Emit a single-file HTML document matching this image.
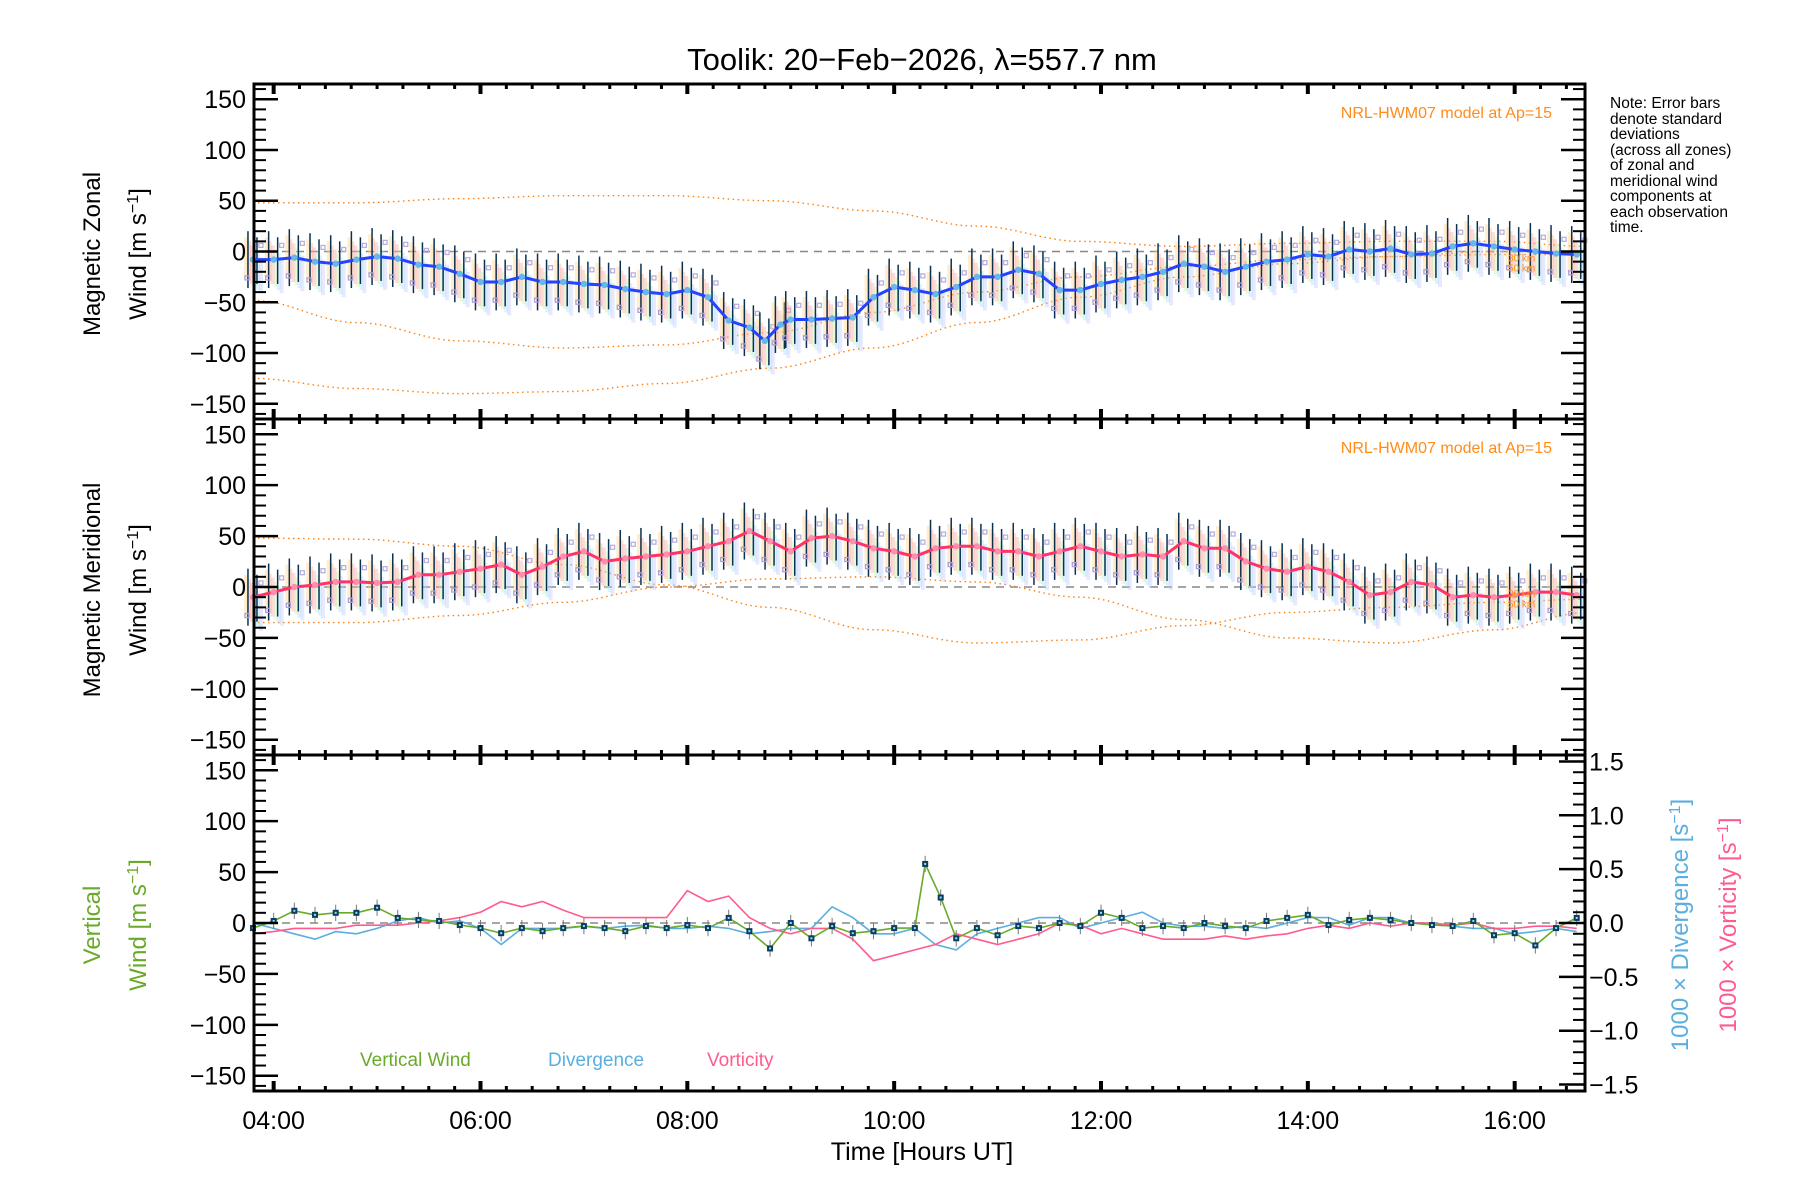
<!DOCTYPE html>
<html><head><meta charset="utf-8"><style>
html,body{margin:0;padding:0;background:#fff;}
svg{display:block;font-family:"Liberation Sans",sans-serif;}
</style></head><body>
<svg id="chart" width="1800" height="1200" viewBox="0 0 1800 1200" xmlns="http://www.w3.org/2000/svg">
<rect width="1800" height="1200" fill="#fff"/>
<text x="922" y="70" font-size="31" text-anchor="middle">Toolik: 20−Feb−2026, λ=557.7 nm</text>
<g font-size="15.5" fill="#000">
<text x="1610" y="108">Note: Error bars</text><text x="1610" y="124">denote standard</text><text x="1610" y="139">deviations</text><text x="1610" y="155">(across all zones)</text><text x="1610" y="170">of zonal and</text><text x="1610" y="186">meridional wind</text><text x="1610" y="201">components at</text><text x="1610" y="217">each observation</text><text x="1610" y="232">time.</text>
</g>
<g id="layer"></g>
</svg>
<script>
const tZ=[3.8,4.0,4.2,4.4,4.6,4.8,5.0,5.2,5.4,5.6,5.8,6.0,6.2,6.4,6.6,6.8,7.0,7.2,7.4,7.6,7.8,8.0,8.2,8.4,8.6,8.75,8.9,9.0,9.2,9.4,9.6,9.8,10.0,10.2,10.4,10.6,10.8,11.0,11.2,11.4,11.6,11.8,12.0,12.2,12.4,12.6,12.8,13.0,13.2,13.4,13.6,13.8,14.0,14.2,14.4,14.6,14.8,15.0,15.2,15.4,15.6,15.8,16.0,16.2,16.4,16.6];
const zonal=[-8,-8,-6,-10,-12,-8,-5,-7,-13,-15,-22,-30,-30,-25,-30,-30,-32,-33,-37,-40,-42,-38,-45,-68,-75,-88,-72,-67,-67,-66,-65,-45,-35,-38,-42,-35,-25,-25,-18,-22,-38,-38,-32,-28,-25,-20,-12,-15,-20,-15,-10,-8,-3,-5,2,0,3,-3,-2,5,8,5,2,0,-2,-3];
const tM=[3.8,4.0,4.2,4.4,4.6,4.8,5.0,5.2,5.4,5.6,5.8,6.0,6.2,6.4,6.6,6.8,7.0,7.2,7.4,7.6,7.8,8.0,8.2,8.4,8.6,8.8,9.0,9.2,9.4,9.6,9.8,10.0,10.2,10.4,10.6,10.8,11.0,11.2,11.4,11.6,11.8,12.0,12.2,12.4,12.6,12.8,13.0,13.2,13.4,13.6,13.8,14.0,14.2,14.4,14.6,14.8,15.0,15.2,15.4,15.6,15.8,16.0,16.2,16.4,16.6];
const meridional=[-10,-5,0,2,5,5,4,5,12,12,15,18,22,12,20,30,35,25,28,30,32,35,40,45,55,45,35,48,50,45,38,35,30,38,40,40,35,35,30,35,40,35,30,32,30,45,38,38,25,18,15,20,15,5,-8,-5,5,2,-10,-8,-10,-8,-5,-5,-8];
const tV=[3.8,4.0,4.2,4.4,4.6,4.8,5.0,5.2,5.4,5.6,5.8,6.0,6.2,6.4,6.6,6.8,7.0,7.2,7.4,7.6,7.8,8.0,8.2,8.4,8.6,8.8,9.0,9.2,9.4,9.6,9.8,10.0,10.2,10.3,10.45,10.6,10.8,11.0,11.2,11.4,11.6,11.8,12.0,12.2,12.4,12.6,12.8,13.0,13.2,13.4,13.6,13.8,14.0,14.2,14.4,14.6,14.8,15.0,15.2,15.4,15.6,15.8,16.0,16.2,16.4,16.6];
const vertical=[-5,2,12,8,10,10,15,5,3,2,-2,-5,-10,-5,-8,-5,-3,-5,-8,-3,-5,-2,-5,5,-8,-25,0,-15,-3,-10,-8,-5,-5,58,25,-15,-5,-12,-3,-5,0,-3,10,5,-5,-3,-5,0,-3,-5,2,5,8,-2,3,5,3,0,-2,-3,2,-12,-10,-22,-5,5];
const divergence=[0,-0.05,-0.1,-0.15,-0.08,-0.1,-0.05,0.02,0.05,0,0.02,-0.05,-0.2,-0.05,-0.05,-0.05,-0.03,-0.05,-0.03,-0.02,-0.05,-0.05,-0.03,-0.05,-0.1,-0.08,-0.05,-0.05,0.15,0.05,-0.1,-0.1,-0.05,-0.2,-0.25,-0.1,-0.05,0,0.05,0.05,-0.05,0,0.05,0.1,0,-0.03,-0.03,-0.05,-0.03,-0.05,0,0.05,0.05,-0.02,0.05,0.05,0,0,-0.03,-0.05,-0.05,-0.1,-0.08,-0.05,-0.08,0.03];
const vorticity=[-0.1,-0.08,-0.05,-0.05,-0.05,-0.02,-0.02,-0.02,0,0.02,0.05,0.1,0.2,0.15,0.2,0.12,0.05,0.05,0.05,0.05,0.05,0.3,0.2,0.25,0.05,-0.05,-0.1,-0.05,-0.05,-0.15,-0.35,-0.3,-0.25,-0.2,-0.1,-0.15,-0.2,-0.15,-0.1,0,-0.02,-0.1,-0.05,-0.1,-0.15,-0.15,-0.15,-0.12,-0.15,-0.12,-0.1,-0.05,-0.02,-0.05,0,-0.03,0,0,-0.02,0,-0.05,-0.05,-0.03,-0.03,-0.05,-0.03];
const tModel=[3.8,4.8,5.8,6.8,7.8,8.8,9.8,10.8,11.8,12.8,13.8,14.8,15.8,16.7];
const zonalModelA=[48,48,52,55,55,50,40,25,10,5,8,10,10,5];
const zonalModelB=[-48,-70,-88,-95,-92,-80,-60,-40,-25,-15,-8,-5,-3,-3];
const zonalModelC=[-125,-135,-140,-138,-130,-115,-95,-70,-45,-25,-12,-5,0,0];
const merModelA=[48,47,40,22,2,-20,-42,-55,-52,-38,-25,-20,-15,-12];
const merModelB=[-35,-35,-28,-15,0,8,10,5,-10,-32,-50,-55,-42,-25];
const yTicks=[150,100,50,0,-50,-100,-150];
const rTicks=[1.5,1.0,0.5,0.0,-0.5,-1.0,-1.5];
const xTicks=[4,6,8,10,12,14,16];
const xLabels=["04:00","06:00","08:00","10:00","12:00","14:00","16:00"];

const NS="http://www.w3.org/2000/svg";
const L=254,R=1585,T0=3.81,T1=16.68;
const panels=[{top:84,bot:419},{top:419,bot:755},{top:755,bot:1091}];
const layer=document.getElementById('layer');
function x(t){return L+(t-T0)/(T1-T0)*(R-L);}
function yf(p){const c=(p.top+p.bot)/2,s=(p.bot-p.top)/330;return v=>c-v*s;}
function yr(p){const c=(p.top+p.bot)/2,s=(p.bot-p.top)/3.12;return v=>c-v*s;}
function mk(tag,a,parent){const e=document.createElementNS(NS,tag);for(const k in a)e.setAttribute(k,a[k]);(parent||layer).appendChild(e);return e;}
function pathOf(ts,vs,Y){return ts.map((t,i)=>(i?'L':'M')+x(t).toFixed(1)+' '+Y(vs[i]).toFixed(1)).join(' ');}
function smooth(ts,vs,Y){let d='';const N=60;for(let i=0;i<ts.length-1;i++){for(let k=0;k<N;k++){const f=k/N,t=ts[i]+(ts[i+1]-ts[i])*f;const g=(1-Math.cos(Math.PI*f))/2;const v=vs[i]+(vs[i+1]-vs[i])*g;d+=(d?'L':'M')+x(t).toFixed(1)+' '+Y(v).toFixed(1);}}return d;}

[[panels[0],tZ,zonal,'#2244ff','#66b8e8',[zonalModelA,zonalModelB,zonalModelC],'zonal'],[panels[1],tM,meridional,'#ff3366','#ff8fb0',[merModelA,merModelB],'meridional']].forEach(([p,ts,vs,lc,dc,models,nm])=>{
  const Y=yf(p);
  const g=mk('g',{});
  mk('line',{x1:L,x2:R,y1:Y(0),y2:Y(0),stroke:'#888','stroke-width':1.5,'stroke-dasharray':'8 6'},g);
  models.forEach(m=>{const e=mk('path',{d:smooth(tModel,m,Y),fill:'none',stroke:'#ff7f0e','stroke-width':1.4,'stroke-dasharray':'1.5 3.5'},g);});
  ts.forEach((t,i)=>{const xx=x(t),v=vs[i];
    const cols=['#ffd27f','#ffb090','#ffa3a3','#c8f0a8','#a8e0ff','#c0c8ff'];
    for(let k=0;k<6;k++){mk('rect',{x:xx-9+k*3,y:Y(v+22-k*4),width:4,height:Math.abs(Y(v-18-k*3)-Y(v+22-k*4)),fill:cols[k],opacity:0.4},g);}
    [-5,4].forEach((o,j)=>{const eb=mk('line',{x1:xx+o,x2:xx+o,y1:Y(v+28-j*6),y2:Y(v-28+j*4),stroke:'#0b3050','stroke-width':1.5},g);
    });
    mk('rect',{x:xx-8,y:Y(v-18)-2,width:4,height:4,fill:'none',stroke:'#a9a0d8','stroke-width':1.3},g);
    mk('rect',{x:xx+6,y:Y(v+14)-2,width:4,height:4,fill:'none',stroke:'#b8b0e0','stroke-width':1.3},g);
  });
  const ln=mk('path',{d:pathOf(ts,vs,Y),fill:'none',stroke:lc,'stroke-width':3},g);
  
  ts.forEach((t,i)=>{mk('circle',{cx:x(t),cy:Y(vs[i]),r:3.2,fill:dc},g);});
  const nt=mk('text',{x:1552,y:p.top+34,'font-size':16,fill:'#ff8c1a','text-anchor':'end'},g);nt.textContent='NRL-HWM07 model at Ap=15';
  
  [['30 km',-6],['50 km',-16]].forEach(([s,o])=>{const e=mk('text',{x:1508,y:Y(o)+4,'font-size':10,fill:'#ff8c1a'},g);e.textContent=s;});
});

(function(){const p=panels[2],Y=yf(p),Yr=yr(p);
  const g=mk('g',{});
  mk('line',{x1:L,x2:R,y1:Y(0),y2:Y(0),stroke:'#888','stroke-width':1.5,'stroke-dasharray':'8 6'},g);
  const dv=mk('path',{d:pathOf(tM,divergence,Yr),fill:'none',stroke:'#5aaee0','stroke-width':1.6},g);
  
  const vo=mk('path',{d:pathOf(tM,vorticity,Yr),fill:'none',stroke:'#ff5c8d','stroke-width':1.6},g);
  
  tV.forEach((t,i)=>{mk('line',{x1:x(t),x2:x(t),y1:Y(vertical[i]+8),y2:Y(vertical[i]-8),stroke:'#777','stroke-width':1},g);});
  const vw=mk('path',{d:pathOf(tV,vertical,Y),fill:'none',stroke:'#6aaa2a','stroke-width':1.6},g);
  
  tV.forEach((t,i)=>{mk('rect',{x:x(t)-3,y:Y(vertical[i])-3,width:6,height:6,fill:'#0b3d5e'},g);mk('rect',{x:x(t)-1,y:Y(vertical[i])-1,width:2,height:2,fill:'#8fe0ff'},g);});
  [['Vertical Wind',360,'#6aaa2a','legend-vertical-wind'],['Divergence',548,'#5aaee0','legend-divergence'],['Vorticity',707,'#ff5c8d','legend-vorticity']].forEach(([s,xx,c,n])=>{const e=mk('text',{x:xx,y:1066,'font-size':19,fill:c},g);e.textContent=s;});
  rTicks.forEach(v=>{mk('line',{x1:R,x2:R-26,y1:Yr(v),y2:Yr(v),stroke:'#000','stroke-width':2.5});const e=mk('text',{x:R+4,y:Yr(v)+9,'font-size':25});e.textContent=(v<0?'−':'')+Math.abs(v).toFixed(1);});
  for(let v=-1.5;v<=1.51;v+=0.1){mk('line',{x1:R,x2:R-12,y1:Yr(v),y2:Yr(v),stroke:'#000','stroke-width':2});}
})();

panels.forEach((p,pi)=>{const Y=yf(p);
  const fr=mk('rect',{x:L,y:p.top,width:R-L,height:p.bot-p.top,fill:'none',stroke:'#000','stroke-width':3});
  
  yTicks.forEach(v=>{mk('line',{x1:L,x2:L+24,y1:Y(v),y2:Y(v),stroke:'#000','stroke-width':2.5});if(pi<2)mk('line',{x1:R,x2:R-24,y1:Y(v),y2:Y(v),stroke:'#000','stroke-width':2.5});
    const e=mk('text',{x:L-8,y:Y(v)+9,'font-size':25,'text-anchor':'end'});e.textContent=(v<0?'−':'')+Math.abs(v);});
  for(let v=-160;v<=160;v+=10){if(v%50){mk('line',{x1:L,x2:L+12,y1:Y(v),y2:Y(v),stroke:'#000','stroke-width':2});if(pi<2)mk('line',{x1:R,x2:R-12,y1:Y(v),y2:Y(v),stroke:'#000','stroke-width':2});}}
  for(let t=3.75;t<=T1;t+=0.25){if(t<T0)continue;const maj=Math.abs(t/2-Math.round(t/2))<1e-6;const len=maj?10:5;
    mk('line',{x1:x(t),x2:x(t),y1:p.bot,y2:p.bot-len,stroke:'#000','stroke-width':maj?4:3});
    mk('line',{x1:x(t),x2:x(t),y1:p.top,y2:p.top+len,stroke:'#000','stroke-width':maj?4:3});}
});
xTicks.forEach((t,i)=>{const e=mk('text',{x:x(t),y:1129,'font-size':25,'text-anchor':'middle'});e.textContent=xLabels[i];});
(function(){const e=mk('text',{x:922,y:1160,'font-size':25,'text-anchor':'middle'});e.textContent='Time [Hours UT]';})();
function vt(s,xx,yy,c,n,parts){const e=mk('text',{x:xx,y:yy,'font-size':24,'text-anchor':'middle',transform:`rotate(-90 ${xx} ${yy})`,fill:c});
  if(parts){parts.forEach(([txt,col,sup])=>{const sp=mk('tspan',sup?{fill:col,'baseline-shift':'super','font-size':16}:{fill:col},e);sp.textContent=txt;});}else e.textContent=s;
  }
vt('Magnetic Zonal',100,254,'#000','zonal-axis-title');
vt('',146,254,'#000','zonal-axis-unit',[['Wind [m s','#000'],['−1','#000',1],[']','#000']]);
vt('Magnetic Meridional',100,590,'#000','meridional-axis-title');
vt('',146,590,'#000','meridional-axis-unit',[['Wind [m s','#000'],['−1','#000',1],[']','#000']]);
vt('Vertical',100,925,'#6aaa2a','vertical-axis-title');
vt('',146,925,'#6aaa2a','vertical-axis-unit',[['Wind [m s','#6aaa2a'],['−1','#6aaa2a',1],[']','#6aaa2a']]);
vt('',1688,925,'#5aaee0','divergence-axis-title',[['1000 × Divergence [s','#5aaee0'],['−1','#5aaee0',1],[']','#5aaee0']]);
vt('',1736,925,'#ff5c8d','vorticity-axis-title',[['1000 × Vorticity [s','#ff5c8d'],['−1','#ff5c8d',1],[']','#ff5c8d']]);
</script>
</body></html>
